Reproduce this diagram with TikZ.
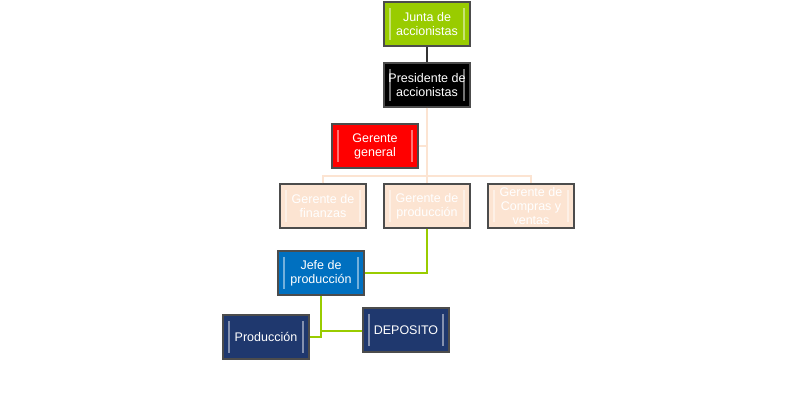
\documentclass[tikz,border=0pt]{standalone}
\usepackage{fontspec}
\setmainfont{Liberation Sans}
\definecolor{lime}{RGB}{153,204,0}
\definecolor{jblue}{RGB}{0,112,192}
\definecolor{navy}{RGB}{31,56,110}
\definecolor{peach}{RGB}{252,228,210}
\begin{document}
\begin{tikzpicture}[x=1pt,y=-1pt,
 box/.style={draw=black!70,line width=1.2pt,minimum width=86pt,minimum height=44pt,inner sep=1pt,align=center,font=\fontsize{12.5}{14}\selectfont,text=white,
  path picture={\draw[white,opacity=0.45,line width=1.2pt]
   ([xshift=6pt,yshift=-6pt]path picture bounding box.north west)--([xshift=6pt,yshift=6pt]path picture bounding box.south west)
   ([xshift=-6pt,yshift=-6pt]path picture bounding box.north east)--([xshift=-6pt,yshift=6pt]path picture bounding box.south east);}},
 pale/.style={box,fill=peach,text=white},
 lnk/.style={line width=1.2pt}]
\useasboundingbox (0,0) rectangle (800,411);
\fill[white] (0,0) rectangle (800,411);
\node[box,fill=lime] (junta) at (427,24) {Junta de\\accionistas};
\node[box,fill=black] (pres) at (427,85) {Presidente de\\accionistas};
\node[box,fill=red] (gg) at (375,146) {Gerente\\general};
\node[pale] (fin) at (323,206) {Gerente de\\finanzas};
\node[pale] (prod) at (427,206) {Gerente de\\producción};
\node[pale] (comp) at (531,206) {Gerente de\\Compras y\\ventas};
\node[box,fill=jblue] (jefe) at (321,273) {Jefe de\\producción};
\node[box,fill=navy] (pcion) at (266,337) {Producción};
\node[box,fill=navy] (dep) at (406,330) {DEPOSITO};
\coordinate (bus) at (427,176);
\draw[lnk,black!80] (junta) -- (pres);
\draw[lnk,peach] (pres) -- (bus) -- (prod);
\draw[lnk,peach] (gg.east) -- (gg.east -| pres);
\draw[lnk,peach] (fin.north) |- (bus) -| (comp.north);
\draw[lnk,lime] (prod.south) |- (jefe.east);
\coordinate (j2) at (321,331);
\draw[lnk,lime] (jefe.south) -- (j2) -- (dep.west |- j2);
\draw[lnk,lime] (j2) |- (pcion.east);
\end{tikzpicture}
\end{document}
